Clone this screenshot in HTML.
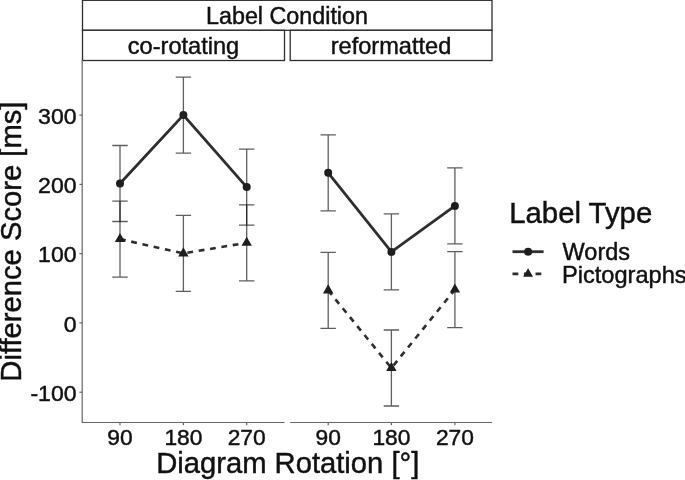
<!DOCTYPE html>
<html><head><meta charset="utf-8"><title>Label Condition plot</title>
<style>
html,body{margin:0;padding:0;background:#fff;}
svg{display:block;}
text{font-family:"Liberation Sans",Arial,sans-serif;fill:#111;stroke:#111;stroke-width:0.45px;}
</style></head><body>
<svg width="685" height="480" viewBox="0 0 685 480">
<rect width="685" height="480" fill="#fff"/>

<rect x="82.5" y="0.3" width="409.5" height="30" fill="#fff" stroke="#2e2e2e" stroke-width="1.3"/>
<rect x="82.5" y="30.3" width="202" height="30.2" fill="#fff" stroke="#2e2e2e" stroke-width="1.3"/>
<rect x="290.2" y="30.3" width="201.8" height="30.2" fill="#fff" stroke="#2e2e2e" stroke-width="1.3"/>
<text x="287" y="24" font-size="23.3" text-anchor="middle">Label Condition</text>
<text x="183.5" y="54.3" font-size="23.6" text-anchor="middle">co-rotating</text>
<text x="391" y="54.3" font-size="23.6" text-anchor="middle">reformatted</text>
<path d="M82.2 60 V422.5 H284.5 M290.2 422.5 H492" fill="none" stroke="#666" stroke-width="1.2"/>
<path d="M79.4 115.1 H82.2" stroke="#666" stroke-width="1.2"/>
<text transform="translate(76.6,123.7) scale(1.035,1)" font-size="22.3" text-anchor="end">300</text>
<path d="M79.4 184.4 H82.2" stroke="#666" stroke-width="1.2"/>
<text transform="translate(76.6,193.0) scale(1.035,1)" font-size="22.3" text-anchor="end">200</text>
<path d="M79.4 253.6 H82.2" stroke="#666" stroke-width="1.2"/>
<text transform="translate(76.6,262.2) scale(1.035,1)" font-size="22.3" text-anchor="end">100</text>
<path d="M79.4 322.9 H82.2" stroke="#666" stroke-width="1.2"/>
<text transform="translate(76.6,331.5) scale(1.035,1)" font-size="22.3" text-anchor="end">0</text>
<path d="M79.4 392.2 H82.2" stroke="#666" stroke-width="1.2"/>
<text transform="translate(76.6,400.8) scale(1.035,1)" font-size="22.3" text-anchor="end">-100</text>
<path d="M120 422.5 V425.2" stroke="#666" stroke-width="1.2"/>
<text x="120" y="444.5" font-size="22.8" text-anchor="middle">90</text>
<path d="M183.4 422.5 V425.2" stroke="#666" stroke-width="1.2"/>
<text x="183.4" y="444.5" font-size="22.8" text-anchor="middle">180</text>
<path d="M246.7 422.5 V425.2" stroke="#666" stroke-width="1.2"/>
<text x="246.7" y="444.5" font-size="22.8" text-anchor="middle">270</text>
<path d="M328.2 422.5 V425.2" stroke="#666" stroke-width="1.2"/>
<text x="328.2" y="444.5" font-size="22.8" text-anchor="middle">90</text>
<path d="M391.4 422.5 V425.2" stroke="#666" stroke-width="1.2"/>
<text x="391.4" y="444.5" font-size="22.8" text-anchor="middle">180</text>
<path d="M454.9 422.5 V425.2" stroke="#666" stroke-width="1.2"/>
<text x="454.9" y="444.5" font-size="22.8" text-anchor="middle">270</text>
<text x="287.75" y="472.7" font-size="29.2" text-anchor="middle">Diagram Rotation [°]</text>
<text transform="translate(21.2,241.6) rotate(-90)" font-size="29.2" text-anchor="middle">Difference Score [ms]</text>
<path d="M112.3 145.5 H127.7 M112.3 221.5 H127.7 M120 145.5 V221.5" fill="none" stroke="#000" stroke-opacity="0.63" stroke-width="1.3"/>
<path d="M175.70000000000002 77.1 H191.1 M175.70000000000002 153.1 H191.1 M183.4 77.1 V153.1" fill="none" stroke="#000" stroke-opacity="0.63" stroke-width="1.3"/>
<path d="M239.0 149.1 H254.39999999999998 M239.0 225.1 H254.39999999999998 M246.7 149.1 V225.1" fill="none" stroke="#000" stroke-opacity="0.63" stroke-width="1.3"/>
<path d="M112.3 201.1 H127.7 M112.3 277.1 H127.7 M120 201.1 V277.1" fill="none" stroke="#000" stroke-opacity="0.63" stroke-width="1.3"/>
<path d="M175.70000000000002 215.4 H191.1 M175.70000000000002 291.4 H191.1 M183.4 215.4 V291.4" fill="none" stroke="#000" stroke-opacity="0.63" stroke-width="1.3"/>
<path d="M239.0 204.8 H254.39999999999998 M239.0 280.8 H254.39999999999998 M246.7 204.8 V280.8" fill="none" stroke="#000" stroke-opacity="0.63" stroke-width="1.3"/>
<path d="M320.5 134.8 H335.9 M320.5 210.8 H335.9 M328.2 134.8 V210.8" fill="none" stroke="#000" stroke-opacity="0.63" stroke-width="1.3"/>
<path d="M383.7 213.9 H399.09999999999997 M383.7 289.9 H399.09999999999997 M391.4 213.9 V289.9" fill="none" stroke="#000" stroke-opacity="0.63" stroke-width="1.3"/>
<path d="M447.2 167.9 H462.59999999999997 M447.2 243.9 H462.59999999999997 M454.9 167.9 V243.9" fill="none" stroke="#000" stroke-opacity="0.63" stroke-width="1.3"/>
<path d="M320.5 252.39999999999998 H335.9 M320.5 328.4 H335.9 M328.2 252.39999999999998 V328.4" fill="none" stroke="#000" stroke-opacity="0.63" stroke-width="1.3"/>
<path d="M383.7 330 H399.09999999999997 M383.7 406 H399.09999999999997 M391.4 330 V406" fill="none" stroke="#000" stroke-opacity="0.63" stroke-width="1.3"/>
<path d="M447.2 251.60000000000002 H462.59999999999997 M447.2 327.6 H462.59999999999997 M454.9 251.60000000000002 V327.6" fill="none" stroke="#000" stroke-opacity="0.63" stroke-width="1.3"/>
<path d="M120 183.5 L183.4 115.1 L246.7 187.1" fill="none" stroke="#2e2e2e" stroke-width="2.8"/>
<circle cx="120" cy="183.5" r="4" fill="#1e1e1e"/>
<circle cx="183.4" cy="115.1" r="4" fill="#1e1e1e"/>
<circle cx="246.7" cy="187.1" r="4" fill="#1e1e1e"/>
<path d="M328.2 172.8 L391.4 251.9 L454.9 205.9" fill="none" stroke="#2e2e2e" stroke-width="2.8"/>
<circle cx="328.2" cy="172.8" r="4" fill="#1e1e1e"/>
<circle cx="391.4" cy="251.9" r="4" fill="#1e1e1e"/>
<circle cx="454.9" cy="205.9" r="4" fill="#1e1e1e"/>
<path d="M120 239.1 L183.4 253.4 L246.7 242.8" fill="none" stroke="#2e2e2e" stroke-width="2.6" stroke-dasharray="5.8 5.7"/>
<path d="M120 233.07 L125.2 242.12 H114.8 Z" fill="#1e1e1e"/>
<path d="M183.4 247.37 L188.6 256.42 H178.20000000000002 Z" fill="#1e1e1e"/>
<path d="M246.7 236.77 L251.89999999999998 245.82 H241.5 Z" fill="#1e1e1e"/>
<path d="M328.2 290.4 L391.4 368 L454.9 289.6" fill="none" stroke="#2e2e2e" stroke-width="2.6" stroke-dasharray="5.8 5.7"/>
<path d="M328.2 284.37 L333.4 293.42 H323.0 Z" fill="#1e1e1e"/>
<path d="M391.4 361.97 L396.59999999999997 371.02 H386.2 Z" fill="#1e1e1e"/>
<path d="M454.9 283.57 L460.09999999999997 292.62 H449.7 Z" fill="#1e1e1e"/>
<text x="509.2" y="222.5" font-size="29.35">Label Type</text>
<path d="M512.5 251.7 H543.6" stroke="#2e2e2e" stroke-width="2.8"/>
<circle cx="528.1" cy="251.7" r="4" fill="#1e1e1e"/>
<path d="M512.5 273.8 H543.6" stroke="#2e2e2e" stroke-width="2.8" stroke-dasharray="5.8 5.7"/>
<path d="M528.1 268.16 L533.0500000000001 276.77 H523.15 Z" fill="#1e1e1e"/>
<text x="562.6" y="260.1" font-size="23.5">Words</text>
<text x="562" y="282.6" font-size="23.6">Pictographs</text>
</svg></body></html>
